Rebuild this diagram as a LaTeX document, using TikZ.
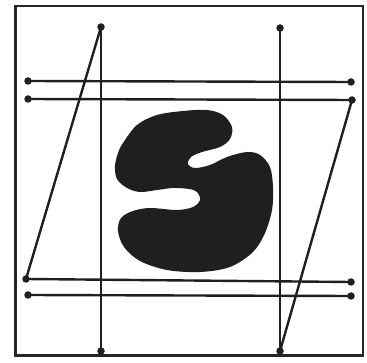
\documentclass[tikz,border=0pt]{standalone}
\begin{document}
\begin{tikzpicture}[x=1pt,y=-1pt,
  ln/.style={line width=2.4pt,line cap=round,black!88},
  dotnode/.style={circle,fill=black!88,inner sep=0pt,minimum size=7.5pt}]
\useasboundingbox (0,0) rectangle (367,363);
% frame
\draw[line width=2.2pt,black!85] (15.5,6) rectangle (363,355.5);
% endpoints
\node[dotnode] (vlt) at (101,27) {};
\node[dotnode] (vlb) at (101,351) {};
\node[dotnode] (vrt) at (280,28) {};
\node[dotnode] (vrb) at (280,351) {};
\node[dotnode] (h1l) at (28,81) {};
\node[dotnode] (h1r) at (351,82) {};
\node[dotnode] (h2l) at (28,99) {};
\node[dotnode] (h2r) at (352,100) {};
\node[dotnode] (h3l) at (26,279) {};
\node[dotnode] (h3r) at (351,282) {};
\node[dotnode] (h4l) at (28,295) {};
\node[dotnode] (h4r) at (351,296) {};
% connectors
\draw[ln] (vlt.center) -- (vlb.center);
\draw[ln] (vrt.center) -- (vrb.center);
\draw[ln] (h1l.center) -- (h1r.center);
\draw[ln] (h2l.center) -- (h2r.center);
\draw[ln] (h3l.center) -- (h3r.center);
\draw[ln] (h4l.center) -- (h4r.center);
\draw[ln] (vlt.center) -- (h3l.center);
\draw[ln] (h2r.center) -- (vrb.center);
% blob
\fill[black!88] plot[smooth cycle,tension=0.55] coordinates {
 (123,143) (137,125) (157,115) (183,111) (207,110) (223,115) (232,127)
 (230,139) (220,147) (202,152) (191,157) (188,164) (195,168) (210,165)
 (227,157) (247,152) (260,155) (270,167) (273,187) (272,210) (265,233)
 (253,252) (230,267) (200,272) (167,270) (140,261) (124,247) (118,231)
 (121,218) (133,211) (150,208) (177,210) (193,207) (200,200) (197,192)
 (189,189) (173,188) (157,190) (140,192) (127,188) (117,179) (115,166) (118,153)};
\end{tikzpicture}
\end{document}
